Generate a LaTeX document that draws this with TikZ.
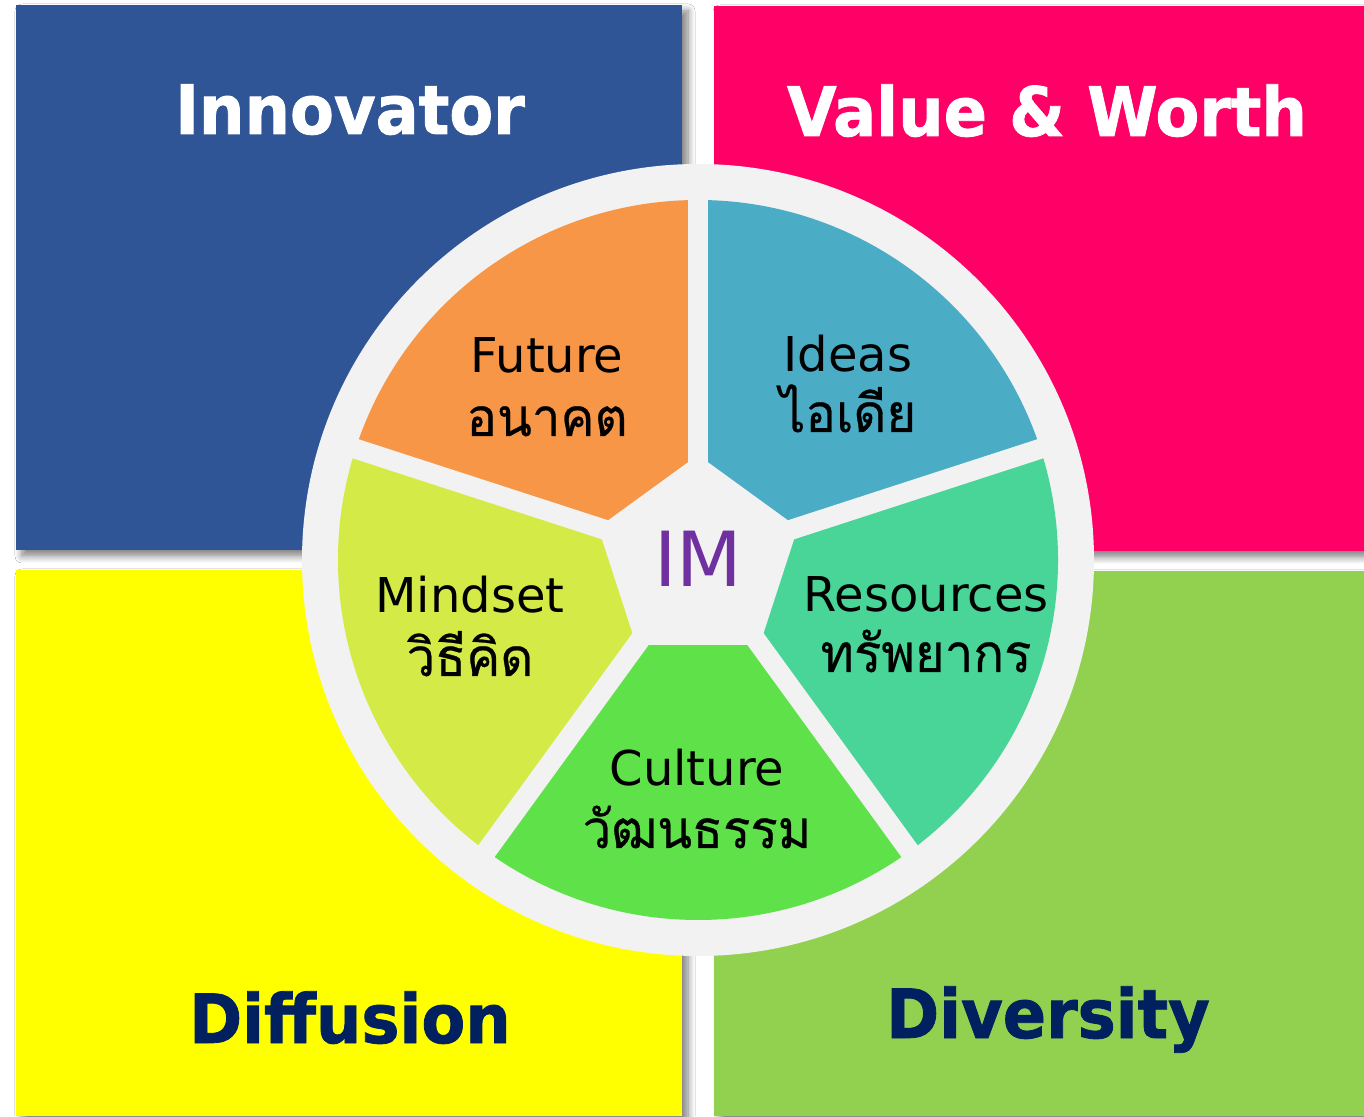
\documentclass[tikz,border=0pt]{standalone}
\usepackage{fontspec}
\setmainfont{DejaVu Sans}
\newfontfamily\titlefont[FakeStretch=0.94,FakeBold=1.2]{DejaVu Sans}
\newfontfamily\thaifont[Script=Thai,FakeStretch=0.96,FakeBold=0.5]{Loma}
\usetikzlibrary{shadows.blur}
\definecolor{cblue}{HTML}{2F5597}
\definecolor{cpink}{HTML}{FF0066}
\definecolor{cyellow}{HTML}{FFFF00}
\definecolor{cgreen}{HTML}{92D050}
\definecolor{cnavy}{HTML}{002060}
\definecolor{cgrey}{HTML}{F2F2F2}
\definecolor{sorange}{HTML}{F79646}
\definecolor{saqua}{HTML}{4BACC6}
\definecolor{smint}{HTML}{48D597}
\definecolor{slime}{HTML}{5FE14A}
\definecolor{syellowgreen}{HTML}{D4EB47}
\definecolor{cpurple}{HTML}{7030A0}
\tikzset{
  quad/.style={blur shadow={shadow xshift=6pt, shadow yshift=-6pt, shadow blur radius=7pt, shadow blur steps=8, shadow opacity=50}},
  titletext/.style={anchor=base, inner sep=0pt, font=\titlefont\bfseries\fontsize{68}{80}\selectfont},
  seglat/.style={anchor=base, inner sep=0pt, text=black, font=\fontsize{48}{58}\selectfont},
  segthai/.style={anchor=base, inner sep=0pt, text=black, font=\thaifont\fontsize{53}{62}\selectfont},
  gapline/.style={draw=cgrey, line width=20pt},
}
\begin{document}
\begin{tikzpicture}[x=1pt,y=1pt]
\useasboundingbox (0,0) rectangle (1364,1116);
\fill[white] (0,0) rectangle (1364,1116);
% quadrants
\fill[cblue,quad] (16,566) rectangle (682,1111);
\fill[cpink,quad] (714,565) rectangle (1364,1110);
\fill[cyellow,quad] (16,0) rectangle (682,546);
\fill[cgreen,quad] (714,0) rectangle (1364,545);
% titles
\node[titletext,text=white] (innovator) at (350,982) {Innovator};
\node[titletext,text=white] (value) at (1047,980) {Value \& Worth};
\node[titletext,text=cnavy] (diffusion) at (350,73) {Diffusion};
\node[titletext,text=cnavy] (diversity) at (1048,78) {Diversity};
% wheel
\begin{scope}[shift={(698,556)}]
  \fill[cgrey] (0,0) circle[radius=396pt];
  \fill[saqua] (0,0) -- (18:360pt) arc[start angle=18, end angle=90, radius=360pt] -- cycle;
  \fill[sorange] (0,0) -- (90:360pt) arc[start angle=90, end angle=162, radius=360pt] -- cycle;
  \fill[syellowgreen] (0,0) -- (162:360pt) arc[start angle=162, end angle=234, radius=360pt] -- cycle;
  \fill[slime] (0,0) -- (234:360pt) arc[start angle=234, end angle=306, radius=360pt] -- cycle;
  \fill[smint] (0,0) -- (306:360pt) arc[start angle=306, end angle=378, radius=360pt] -- cycle;
  \foreach \a in {18,90,162,234,306} { \draw[gapline] (0,0) -- (\a:380pt); }
  \fill[cgrey] (90:105pt) -- (162:105pt) -- (234:105pt) -- (306:105pt) -- (18:105pt) -- cycle;
\end{scope}
\node[anchor=base, inner sep=0pt, text=cpurple, font=\fontsize{76}{90}\selectfont] (im) at (698,529) {IM};
\node[seglat] (futureEN) at (547,743) {Future};
\node[segthai] (futureTH) at (547,680) {อนาคต};
\node[seglat] (ideasEN) at (848,744) {Ideas};
\node[segthai] (ideasTH) at (848,684) {ไอเดีย};
\node[seglat] (mindsetEN) at (470,503) {Mindset};
\node[segthai] (mindsetTH) at (470,440) {วิธีคิด};
\node[seglat] (resourcesEN) at (926,504) {Resources};
\node[segthai] (resourcesTH) at (926,444) {ทรัพยากร};
\node[seglat] (cultureEN) at (697,330) {Culture};
\node[segthai] (cultureTH) at (697,268) {วัฒนธรรม};
\end{tikzpicture}
\end{document}
